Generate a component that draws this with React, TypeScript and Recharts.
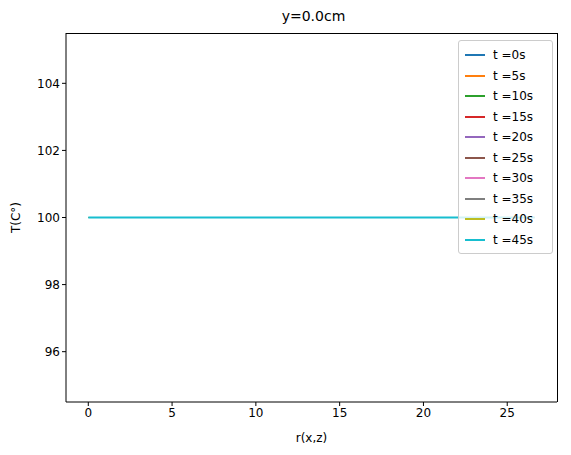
import React from 'react';
import { LineChart, Line, XAxis, YAxis } from 'recharts';

const times = [0, 5, 10, 15, 20, 25, 30, 35, 40, 45];
const colors = ['#1f77b4', '#ff7f0e', '#2ca02c', '#d62728', '#9467bd', '#8c564b', '#e377c2', '#7f7f7f', '#bcbd22', '#17becf'];
const rValues = [0, 2, 4, 6, 8, 10, 12, 14, 16, 18, 20, 22, 24, 26.64];
const temps = [100, 100, 100, 100, 100, 100, 100, 100, 100, 100];
const xTicks = [0, 5, 10, 15, 20, 25];
const yTicks = [96, 98, 100, 102, 104];

const data = rValues.map((r) => {
  const row: any = { r };
  times.forEach((t, i) => { row['t' + t] = temps[i]; });
  return row;
});

const LegendBox = () => (
  <div style={{ position: 'absolute', left: 458, top: 40, width: 95, height: 214, boxSizing: 'border-box', border: '1px solid #ccc', borderRadius: 3, background: 'rgba(255,255,255,0.8)', padding: '4px 0 0 6px', fontFamily: 'DejaVu Sans', fontSize: 12 }}>
    {times.map((t, i) => (
      <div key={t} style={{ display: 'flex', alignItems: 'center', height: 20.5 }}>
        <div style={{ width: 20, height: 2, background: colors[i], marginRight: 8 }} />
        <span>t ={t}s</span>
      </div>
    ))}
  </div>
);

export default function App() {
  const font = { fontFamily: 'DejaVu Sans', fontSize: 12, fill: '#000' };
  return (
    <div style={{ position: 'absolute', left: 0, top: 0, width: 571, height: 455, background: '#fff' }}>
      <div style={{ position: 'absolute', top: 8, width: 571, left: 28, textAlign: 'center', fontFamily: 'DejaVu Sans', fontSize: 14 }}>y=0.0cm</div>
      <LineChart width={571} height={455} data={data} margin={{ top: 33, right: 14, left: 16, bottom: 23 }}>
        <XAxis dataKey="r" type="number" domain={[-1.33, 27.97]} ticks={xTicks} tick={font} stroke="#000" tickSize={4}
          label={{ value: 'r(x,z)', position: 'insideBottom', offset: -10, style: font }} allowDataOverflow />
        <YAxis type="number" domain={[94.5, 105.5]} ticks={yTicks} tick={font} stroke="#000" tickSize={4} width={50}
          label={{ value: 'T(C°)', angle: -90, position: 'insideLeft', offset: 0, style: { ...font, textAnchor: 'middle' } }} allowDataOverflow />
        {times.map((t, i) => (
          <Line key={t} type="linear" dataKey={'t' + t} stroke={colors[i]} strokeWidth={i === times.length - 1 ? 2 : 1} dot={false} isAnimationActive={false} />
        ))}
      </LineChart>
      <LegendBox />
      <div style={{ position: 'absolute', left: 557, top: 33, width: 1, height: 369, background: '#000' }} />
      <div style={{ position: 'absolute', left: 66, top: 33, width: 492, height: 1, background: '#000' }} />
    </div>
  );
}
